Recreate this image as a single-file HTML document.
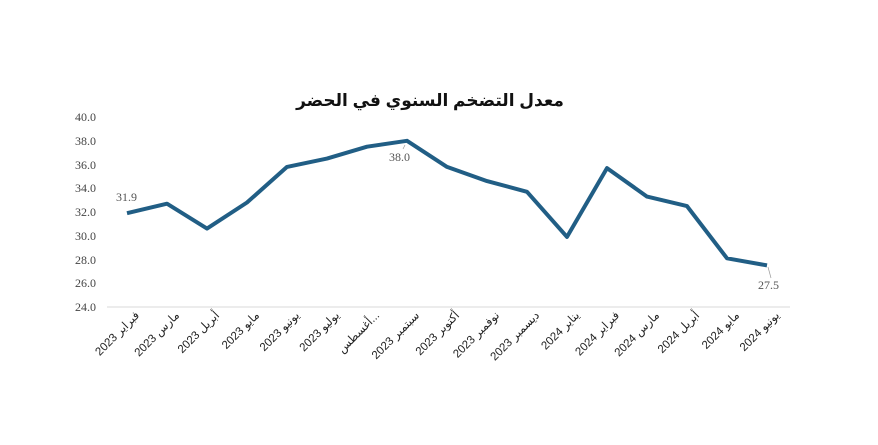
<!DOCTYPE html>
<html><head><meta charset="utf-8"><style>body{margin:0;background:#fff}svg{display:block}</style></head>
<body>
<svg width="878" height="445" xmlns="http://www.w3.org/2000/svg">
<rect width="878" height="445" fill="#fff"/>
<text x="430" y="106" text-anchor="middle" font-family="'Liberation Sans','Noto Sans CJK SC','DejaVu Sans',sans-serif" font-size="17" font-weight="bold" fill="#111" direction="rtl">معدل التضخم السنوي في الحضر</text>
<g font-family="'Liberation Serif',serif" font-size="12" fill="#444" text-anchor="end">
<text x="96" y="121">40.0</text><text x="96" y="145">38.0</text><text x="96" y="169">36.0</text><text x="96" y="192">34.0</text><text x="96" y="216">32.0</text><text x="96" y="240">30.0</text><text x="96" y="264">28.0</text><text x="96" y="287">26.0</text><text x="96" y="311">24.0</text>
</g>
<line x1="107" y1="307" x2="790" y2="307" stroke="#d9d9d9" stroke-width="1"/>
<polyline fill="none" stroke="#215e85" stroke-width="4" stroke-linejoin="round" points="127,213.2 167,203.7 207,228.6 247,202.5 287,166.9 327,158.6 367,146.7 407,140.8 447,166.9 487,181.1 527,191.8 567,236.9 607,168.1 647,196.6 687,206.1 727,258.3 767,265.4"/>
<g font-family="'Liberation Serif',serif" font-size="12" fill="#555">
<text x="116" y="201">31.9</text>
<text x="389" y="161">38.0</text>
<text x="758" y="289">27.5</text>
</g>
<line x1="405" y1="145" x2="403" y2="149" stroke="#999" stroke-width="0.7"/>
<line x1="768" y1="267" x2="771" y2="278" stroke="#999" stroke-width="0.7"/>
<g font-family="'Liberation Sans','DejaVu Sans',sans-serif" font-size="11.5" fill="#222" text-anchor="end">
<text transform="translate(140,316) rotate(-45)">فبراير 2023</text>
<text transform="translate(180,316) rotate(-45)">مارس 2023</text>
<text transform="translate(220,316) rotate(-45)">أبريل 2023</text>
<text transform="translate(260,316) rotate(-45)">مايو 2023</text>
<text transform="translate(300,316) rotate(-45)">يونيو 2023</text>
<text transform="translate(340,316) rotate(-45)">يوليو 2023</text>
<text transform="translate(380,316) rotate(-45)">أغسطس...</text>
<text transform="translate(420,316) rotate(-45)">سبتمبر 2023</text>
<text transform="translate(460,316) rotate(-45)">أكتوبر 2023</text>
<text transform="translate(500,316) rotate(-45)">نوفمبر 2023</text>
<text transform="translate(540,316) rotate(-45)">ديسمبر 2023</text>
<text transform="translate(580,316) rotate(-45)">يناير 2024</text>
<text transform="translate(620,316) rotate(-45)">فبراير 2024</text>
<text transform="translate(660,316) rotate(-45)">مارس 2024</text>
<text transform="translate(700,316) rotate(-45)">أبريل 2024</text>
<text transform="translate(740,316) rotate(-45)">مايو 2024</text>
<text transform="translate(780,316) rotate(-45)">يونيو 2024</text>
</g>
</svg>
</body></html>
